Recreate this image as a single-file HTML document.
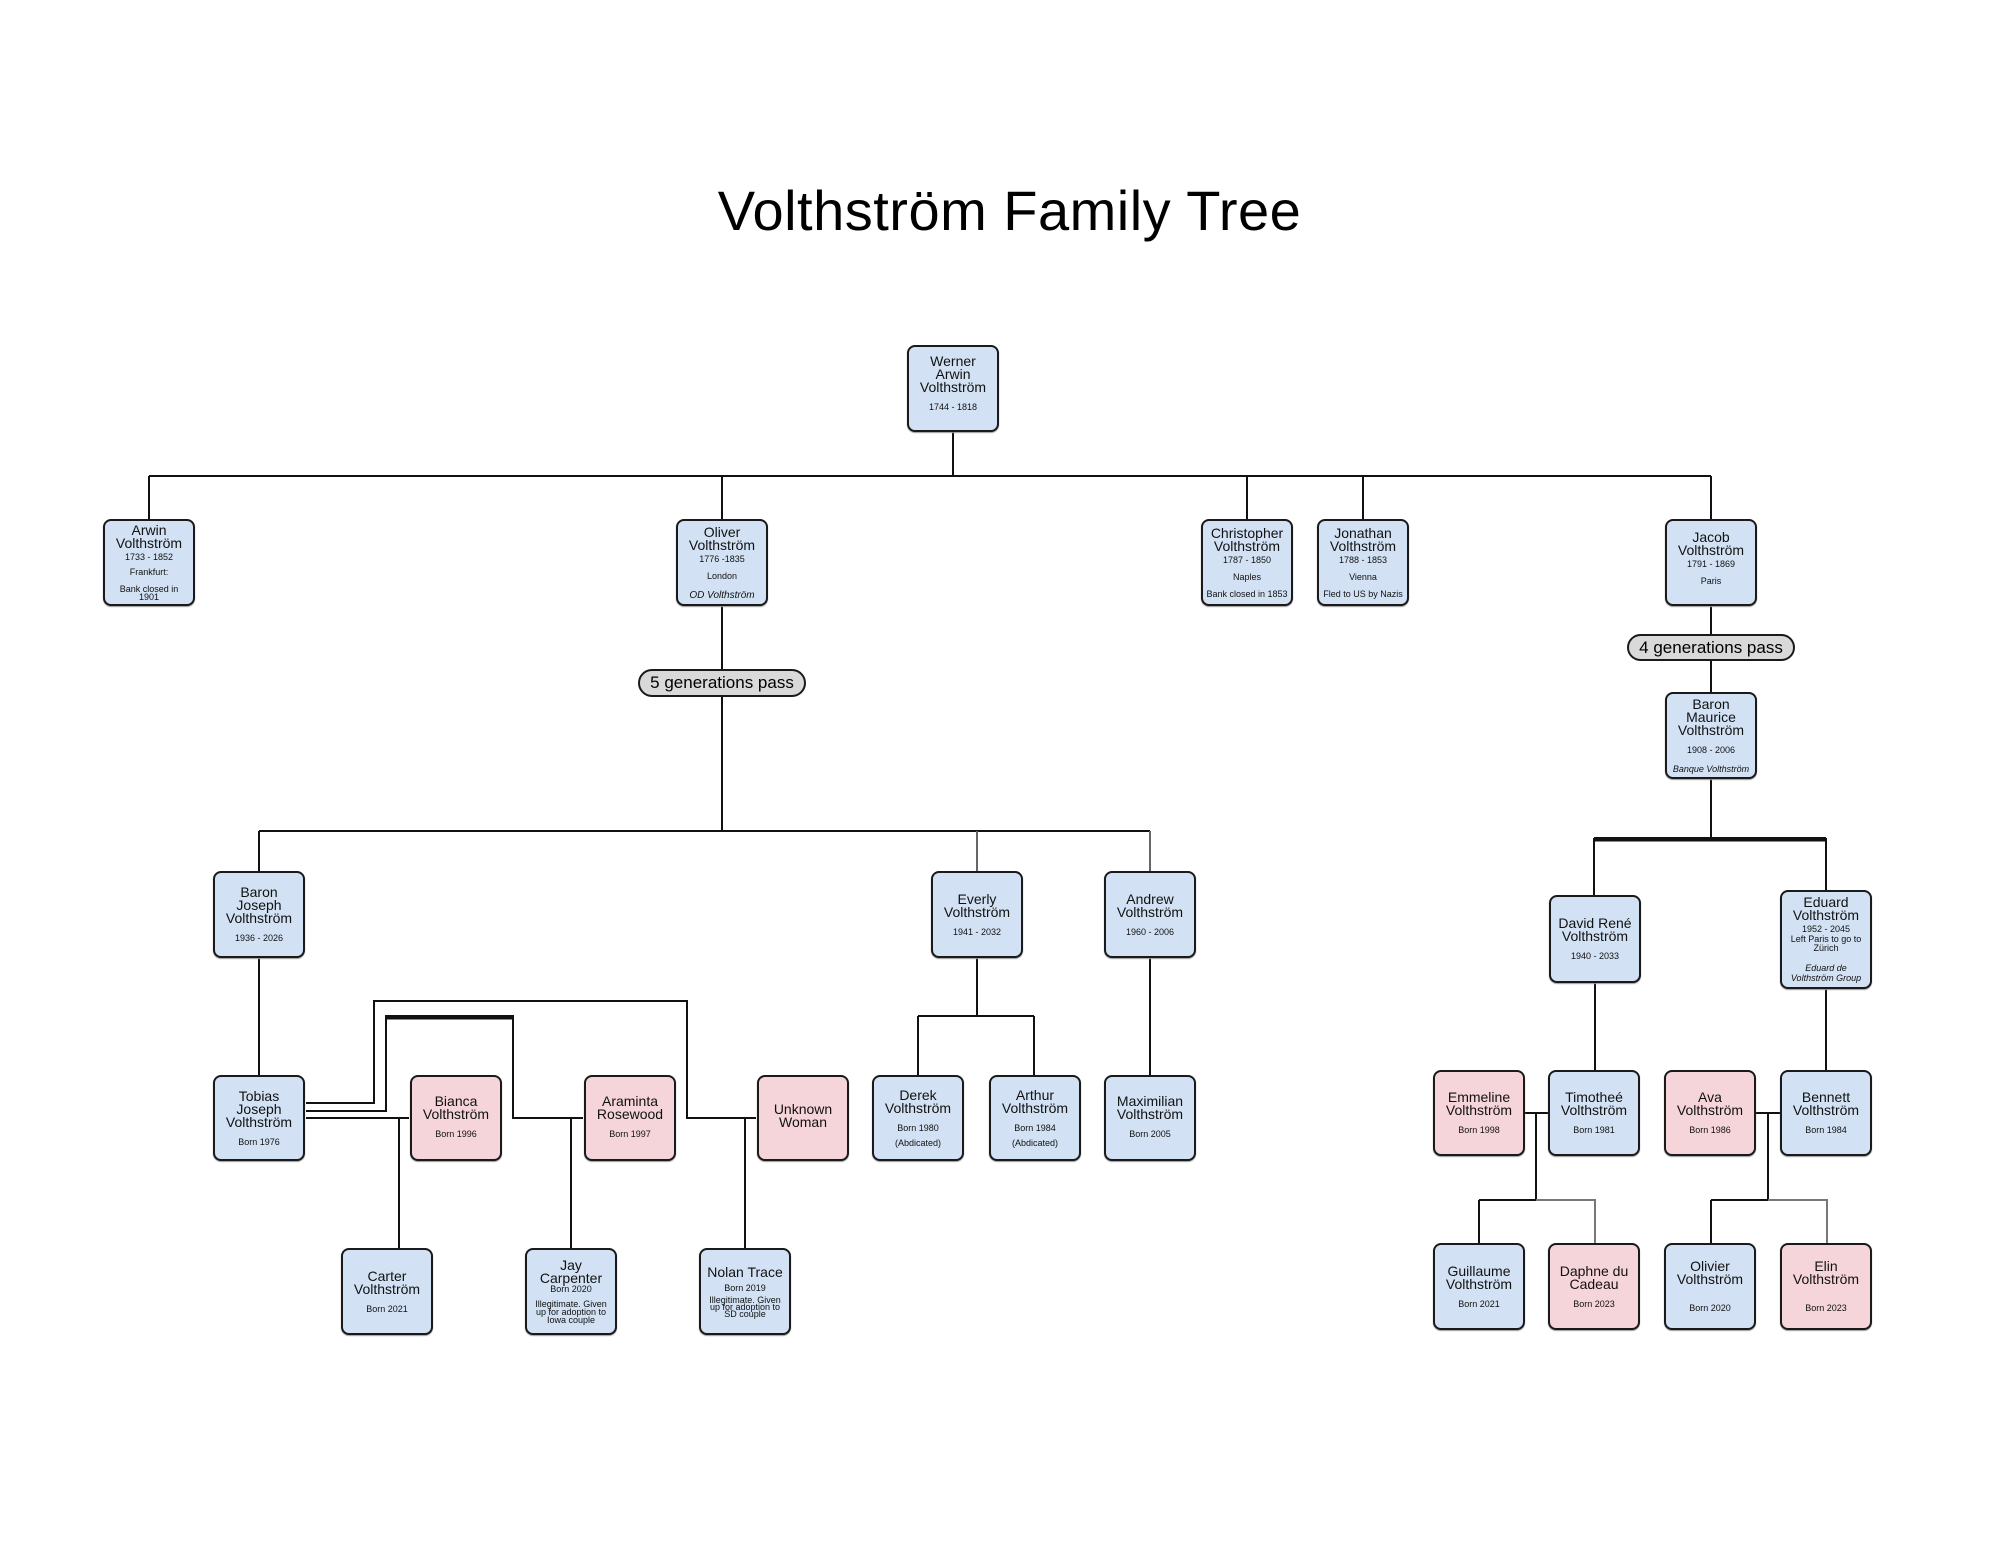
<!DOCTYPE html>
<html><head><meta charset="utf-8"><style>
body{margin:0;width:1999px;height:1545px;background:#fff;position:relative;overflow:hidden;font-family:"Liberation Sans",sans-serif;}
.t{position:absolute;left:0;width:1999px;top:178px;text-align:center;font-size:56px;color:#000;padding-left:20px;box-sizing:border-box;letter-spacing:0.5px}
.b{position:absolute;width:92px;box-sizing:border-box;border:2px solid #1a1a1a;border-radius:8px;background:#d2e2f4;display:flex;flex-direction:column;align-items:center;justify-content:center;text-align:center;color:#111;box-shadow:0 1px 1px #999}
.p{background:#f6d5da}
.n{font-size:14px;line-height:13px}
.s{font-size:9px;line-height:9px;margin-top:3px}
.g{margin-top:9px}
.i{font-style:italic;font-size:10px}
.pill{position:absolute;border:2px solid #1a1a1a;border-radius:14px;background:#d9d9d9;font-size:17px;text-align:center;box-sizing:border-box}
svg{position:absolute;left:0;top:0}
</style></head><body>
<div class="t">Volthström Family Tree</div>
<svg width="1999" height="1545" fill="none" stroke="#111" stroke-width="2">
<path d="M953 432V476M149 476H1711M149 476V519M722 476V519M1247 476V519M1363 476V519M1711 476V519"/>
<path d="M722 606V669M722 696V831M259 831H1150M259 831V871"/>
<path d="M977 831V871M1150 831V871" stroke="#666"/>
<path d="M1711 606V634M1711 660V692M1711 779V838M1594 838H1826M1594 838V895M1826 838V890" />
<path d="M1594 840H1826" stroke-width="3"/>
<path d="M259 958V1075M977 958V1016M918 1016H1034M918 1016V1075M1034 1016V1075M1150 958V1075"/>
<path d="M1595 983V1070M1826 989V1070"/>
<path d="M306 1103H374V1001H687V1118H756M306 1111H386V1016H513V1118H583M306 1118H409M399 1118V1248M571 1118V1248M745 1118V1248"/>
<path d="M386 1018H513" stroke-width="3"/>
<path d="M1525 1113H1548M1536 1113V1200M1479 1200H1536M1479 1200V1243M1756 1113H1780M1768 1113V1200M1711 1200H1768M1711 1200V1243"/>
<path d="M1536 1200H1595V1243M1768 1200H1827V1243" stroke="#777"/>
</svg>
<div class="b" style="left:907px;top:345px;height:87px;justify-content:flex-start;padding-top:8px"><div class="n">Werner<br>Arwin<br>Volthström</div><div class="s g">1744 - 1818</div></div>

<div class="b" style="left:103px;top:519px;height:87px"><div class="n">Arwin<br>Volthström</div><div class="s">1733 - 1852</div><div class="s g" style="margin-top:6px">Frankfurt:</div><div class="s" style="margin-top:8px;line-height:8px">Bank closed in<br>1901</div></div>
<div class="b" style="left:676px;top:519px;height:87px"><div class="n">Oliver<br>Volthström</div><div class="s">1776 -1835</div><div class="s" style="margin-top:8px">London</div><div class="s i" style="margin-top:10px">OD Volthström</div></div>
<div class="b" style="left:1201px;top:519px;height:87px"><div class="n">Christopher<br>Volthström</div><div class="s">1787 - 1850</div><div class="s" style="margin-top:8px">Naples</div><div class="s" style="margin-top:8px">Bank closed in 1853</div></div>
<div class="b" style="left:1317px;top:519px;height:87px"><div class="n">Jonathan<br>Volthström</div><div class="s">1788 - 1853</div><div class="s" style="margin-top:8px">Vienna</div><div class="s" style="margin-top:8px">Fled to US by Nazis</div></div>
<div class="b" style="left:1665px;top:519px;height:87px;justify-content:flex-start;padding-top:10px"><div class="n">Jacob<br>Volthström</div><div class="s">1791 - 1869</div><div class="s" style="margin-top:8px">Paris</div></div>

<div class="pill" style="left:638px;top:669px;width:168px;height:28px;line-height:24px">5 generations pass</div>
<div class="pill" style="left:1627px;top:634px;width:168px;height:27px;line-height:23px">4 generations pass</div>

<div class="b" style="left:1665px;top:692px;height:87px"><div class="n">Baron<br>Maurice<br>Volthström</div><div class="s g">1908 - 2006</div><div class="s i" style="margin-top:10px;font-size:9px">Banque Volthström</div></div>

<div class="b" style="left:213px;top:871px;height:87px"><div class="n">Baron<br>Joseph<br>Volthström</div><div class="s g">1936 - 2026</div></div>
<div class="b" style="left:931px;top:871px;height:87px"><div class="n">Everly<br>Volthström</div><div class="s g">1941 - 2032</div></div>
<div class="b" style="left:1104px;top:871px;height:87px"><div class="n">Andrew<br>Volthström</div><div class="s g">1960 - 2006</div></div>
<div class="b" style="left:1549px;top:895px;height:88px"><div class="n">David René<br>Volthström</div><div class="s g">1940 - 2033</div></div>
<div class="b" style="left:1780px;top:890px;height:99px"><div class="n">Eduard<br>Volthström</div><div class="s">1952 - 2045</div><div class="s" style="margin-top:1px">Left Paris to go to<br>Zürich</div><div class="s i" style="margin-top:10px;font-size:9px;line-height:10px">Eduard de<br>Volthström Group</div></div>

<div class="b" style="left:213px;top:1075px;height:86px"><div class="n">Tobias<br>Joseph<br>Volthström</div><div class="s g">Born 1976</div></div>
<div class="b p" style="left:410px;top:1075px;height:86px;justify-content:flex-start;padding-top:18px"><div class="n">Bianca<br>Volthström</div><div class="s g">Born 1996</div></div>
<div class="b p" style="left:584px;top:1075px;height:86px;justify-content:flex-start;padding-top:18px"><div class="n">Araminta<br>Rosewood</div><div class="s g">Born 1997</div></div>
<div class="b p" style="left:757px;top:1075px;height:86px;justify-content:flex-start;padding-top:26px"><div class="n">Unknown<br>Woman</div></div>
<div class="b" style="left:872px;top:1075px;height:86px"><div class="n">Derek<br>Volthström</div><div class="s g">Born 1980</div><div class="s g" style="margin-top:6px">(Abdicated)</div></div>
<div class="b" style="left:989px;top:1075px;height:86px"><div class="n">Arthur<br>Volthström</div><div class="s g">Born 1984</div><div class="s g" style="margin-top:6px">(Abdicated)</div></div>
<div class="b" style="left:1104px;top:1075px;height:86px;justify-content:flex-start;padding-top:18px"><div class="n">Maximilian<br>Volthström</div><div class="s g">Born 2005</div></div>

<div class="b p" style="left:1433px;top:1070px;height:86px"><div class="n">Emmeline<br>Volthström</div><div class="s g">Born 1998</div></div>
<div class="b" style="left:1548px;top:1070px;height:86px"><div class="n">Timotheé<br>Volthström</div><div class="s g">Born 1981</div></div>
<div class="b p" style="left:1664px;top:1070px;height:86px"><div class="n">Ava<br>Volthström</div><div class="s g">Born 1986</div></div>
<div class="b" style="left:1780px;top:1070px;height:86px"><div class="n">Bennett<br>Volthström</div><div class="s g">Born 1984</div></div>

<div class="b" style="left:341px;top:1248px;height:87px"><div class="n">Carter<br>Volthström</div><div class="s g">Born 2021</div></div>
<div class="b" style="left:525px;top:1248px;height:87px"><div class="n">Jay<br>Carpenter</div><div class="s" style="margin-top:0">Born 2020</div><div class="s" style="margin-top:6px;line-height:8px">Illegitimate. Given<br>up for adoption to<br>Iowa couple</div></div>
<div class="b" style="left:699px;top:1248px;height:87px"><div class="n">Nolan Trace</div><div class="s g" style="margin-top:5px">Born 2019</div><div class="s" style="margin-top:4px;line-height:7px">Illegitimate. Given<br>up for adoption to<br>SD couple</div></div>

<div class="b" style="left:1433px;top:1243px;height:87px"><div class="n">Guillaume<br>Volthström</div><div class="s g">Born 2021</div></div>
<div class="b p" style="left:1548px;top:1243px;height:87px"><div class="n">Daphne du<br>Cadeau</div><div class="s g">Born 2023</div></div>
<div class="b" style="left:1664px;top:1243px;height:87px"><div class="n">Olivier<br>Volthström</div><div class="s" style="margin-top:18px">Born 2020</div></div>
<div class="b p" style="left:1780px;top:1243px;height:87px"><div class="n">Elin<br>Volthström</div><div class="s" style="margin-top:18px">Born 2023</div></div>
</body></html>
